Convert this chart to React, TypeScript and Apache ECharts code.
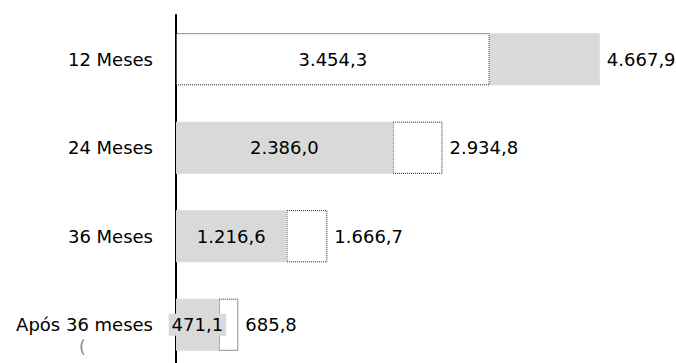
import React, { useEffect, useRef } from "react";
import * as echarts from "echarts";

const categories = ["12 Meses", "24 Meses", "36 Meses", "Após 36 meses"];
const firstValues = [3454.3, 2386.0, 1216.6, 471.1];
const totalValues = [4667.9, 2934.8, 1666.7, 685.8];

const GREY = "#d9d9d9";
const FONT = "DejaVu Sans";
const FS = 18;

function fmt(v: number): string {
  const fixed = v.toFixed(1);
  const [intPart, dec] = fixed.split(".");
  const withSep = intPart.replace(/\B(?=(\d{3})+(?!\d))/g, ".");
  return withSep + "," + dec;
}

const whiteDotted = { color: "#ffffff", borderColor: "#222", borderWidth: 1, borderType: "dotted" as const };
const greyFill = { color: GREY, borderWidth: 0 };

export default function App() {
  const ref = useRef<HTMLDivElement>(null);
  useEffect(() => {
    if (!ref.current) return;
    const chart = echarts.init(ref.current, undefined, { renderer: "svg" });
    const firstData = firstValues.map((v, i) => ({
      value: v,
      itemStyle: i === 0 ? whiteDotted : greyFill,
      label: { backgroundColor: i === 0 ? "transparent" : GREY },
    }));
    const restData = totalValues.map((t, i) => ({
      value: +(t - firstValues[i]).toFixed(1),
      itemStyle: i === 0 ? greyFill : whiteDotted,
    }));
    chart.setOption({
      animation: false,
      grid: { left: 176, right: 46, top: 15, height: 354, containLabel: false },
      xAxis: {
        type: "value",
        min: 0,
        max: 5000,
        show: false,
      },
      yAxis: {
        type: "category",
        data: categories,
        inverse: true,
        axisLine: { show: true, lineStyle: { color: "#000", width: 2 } },
        axisTick: { show: false },
        axisLabel: { color: "#000", fontFamily: FONT, fontSize: FS, margin: 23 },
      },
      series: [
        {
          type: "bar",
          stack: "s",
          z: 3,
          data: firstData,
          barWidth: "59%",
          label: {
            show: true,
            position: "inside",
            color: "#000",
            fontFamily: FONT,
            fontSize: FS,
            padding: [2, 3],
            formatter: (p: any) => fmt(p.value),
          },
        },
        {
          type: "bar",
          stack: "s",
          z: 2,
          data: restData,
          barWidth: "59%",
          label: {
            show: true,
            position: "right",
            distance: 7,
            color: "#000",
            fontFamily: FONT,
            fontSize: FS,
            formatter: (p: any) => fmt(totalValues[p.dataIndex]),
          },
        },
      ],
      graphic: [
        {
          type: "text",
          left: 79,
          top: 338,
          style: { text: "(", fill: "#888", fontFamily: FONT, fontSize: 17 },
        },
      ],
    });
    return () => chart.dispose();
  }, []);
  return (
    <div style={{ position: "absolute", left: 0, top: 0, width: 676, height: 363, overflow: "hidden" }}>
      <div ref={ref} style={{ width: 676, height: 375 }} />
    </div>
  );
}
